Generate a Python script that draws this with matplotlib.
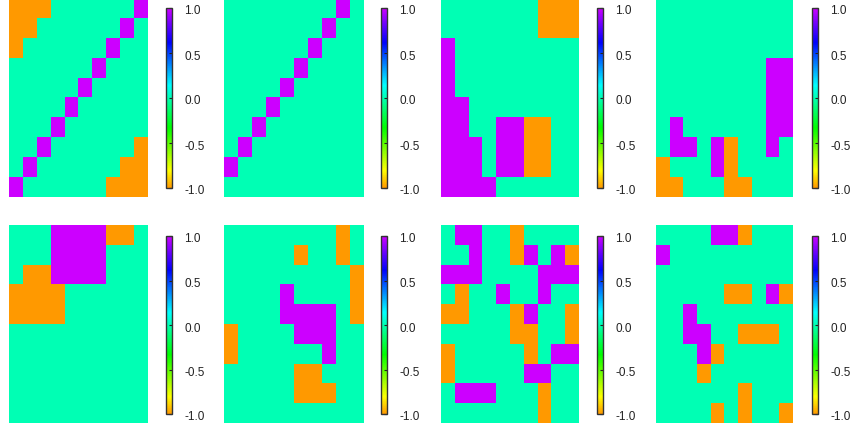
import numpy as np
import matplotlib
matplotlib.use('Agg')
import matplotlib.pyplot as plt
from matplotlib.colors import ListedColormap, hsv_to_rgb
from matplotlib.transforms import ScaledTranslation

plt.rcParams['font.family'] = ['Liberation Sans', 'DejaVu Sans']

# 10x10 state grids, -1 / 0 / 1, row 0 at the top
grid_a = [
    [-1, -1, -1, 0, 0, 0, 0, 0, 0, 1],
    [-1, -1, 0, 0, 0, 0, 0, 0, 1, 0],
    [-1, 0, 0, 0, 0, 0, 0, 1, 0, 0],
    [0, 0, 0, 0, 0, 0, 1, 0, 0, 0],
    [0, 0, 0, 0, 0, 1, 0, 0, 0, 0],
    [0, 0, 0, 0, 1, 0, 0, 0, 0, 0],
    [0, 0, 0, 1, 0, 0, 0, 0, 0, 0],
    [0, 0, 1, 0, 0, 0, 0, 0, 0, -1],
    [0, 1, 0, 0, 0, 0, 0, 0, -1, -1],
    [1, 0, 0, 0, 0, 0, 0, -1, -1, -1],
]
grid_b = [
    [0, 0, 0, 0, 0, 0, 0, 0, 1, 0],
    [0, 0, 0, 0, 0, 0, 0, 1, 0, 0],
    [0, 0, 0, 0, 0, 0, 1, 0, 0, 0],
    [0, 0, 0, 0, 0, 1, 0, 0, 0, 0],
    [0, 0, 0, 0, 1, 0, 0, 0, 0, 0],
    [0, 0, 0, 1, 0, 0, 0, 0, 0, 0],
    [0, 0, 1, 0, 0, 0, 0, 0, 0, 0],
    [0, 1, 0, 0, 0, 0, 0, 0, 0, 0],
    [1, 0, 0, 0, 0, 0, 0, 0, 0, 0],
    [0, 0, 0, 0, 0, 0, 0, 0, 0, 0],
]
grid_c = [
    [0, 0, 0, 0, 0, 0, 0, -1, -1, -1],
    [0, 0, 0, 0, 0, 0, 0, -1, -1, -1],
    [1, 0, 0, 0, 0, 0, 0, 0, 0, 0],
    [1, 0, 0, 0, 0, 0, 0, 0, 0, 0],
    [1, 0, 0, 0, 0, 0, 0, 0, 0, 0],
    [1, 1, 0, 0, 0, 0, 0, 0, 0, 0],
    [1, 1, 0, 0, 1, 1, -1, -1, 0, 0],
    [1, 1, 1, 0, 1, 1, -1, -1, 0, 0],
    [1, 1, 1, 0, 1, 1, -1, -1, 0, 0],
    [1, 1, 1, 1, 0, 0, 0, 0, 0, 0],
]
grid_d = [
    [0, 0, 0, 0, 0, 0, 0, 0, 0, 0],
    [0, 0, 0, 0, 0, 0, 0, 0, 0, 0],
    [0, 0, 0, 0, 0, 0, 0, 0, 0, 0],
    [0, 0, 0, 0, 0, 0, 0, 0, 1, 1],
    [0, 0, 0, 0, 0, 0, 0, 0, 1, 1],
    [0, 0, 0, 0, 0, 0, 0, 0, 1, 1],
    [0, 1, 0, 0, 0, 0, 0, 0, 1, 1],
    [0, 1, 1, 0, 1, -1, 0, 0, 1, 0],
    [-1, 0, 0, 0, 1, -1, 0, 0, 0, 0],
    [-1, -1, 0, 0, 0, -1, -1, 0, 0, 0],
]
grid_e = [
    [0, 0, 0, 1, 1, 1, 1, -1, -1, 0],
    [0, 0, 0, 1, 1, 1, 1, 0, 0, 0],
    [0, -1, -1, 1, 1, 1, 1, 0, 0, 0],
    [-1, -1, -1, -1, 0, 0, 0, 0, 0, 0],
    [-1, -1, -1, -1, 0, 0, 0, 0, 0, 0],
    [0, 0, 0, 0, 0, 0, 0, 0, 0, 0],
    [0, 0, 0, 0, 0, 0, 0, 0, 0, 0],
    [0, 0, 0, 0, 0, 0, 0, 0, 0, 0],
    [0, 0, 0, 0, 0, 0, 0, 0, 0, 0],
    [0, 0, 0, 0, 0, 0, 0, 0, 0, 0],
]
grid_f = [
    [0, 0, 0, 0, 0, 0, 0, 0, -1, 0],
    [0, 0, 0, 0, 0, -1, 0, 0, -1, 0],
    [0, 0, 0, 0, 0, 0, 0, 0, 0, -1],
    [0, 0, 0, 0, 1, 0, 0, 0, 0, -1],
    [0, 0, 0, 0, 1, 1, 1, 1, 0, -1],
    [-1, 0, 0, 0, 0, 1, 1, 1, 0, 0],
    [-1, 0, 0, 0, 0, 0, 0, 1, 0, 0],
    [0, 0, 0, 0, 0, -1, -1, 0, 0, 0],
    [0, 0, 0, 0, 0, -1, -1, -1, 0, 0],
    [0, 0, 0, 0, 0, 0, 0, 0, 0, 0],
]
grid_g = [
    [0, 1, 1, 0, 0, -1, 0, 0, 0, 0],
    [0, 0, 1, 0, 0, -1, 1, 0, 1, -1],
    [1, 1, 1, 0, 0, 0, 0, 1, 1, 1],
    [0, -1, 0, 0, 1, 0, 0, 1, 0, 0],
    [-1, -1, 0, 0, 0, -1, 1, 0, 0, -1],
    [0, 0, 0, 0, 0, -1, -1, 0, 0, -1],
    [-1, 0, 0, 0, 0, 0, -1, 0, 1, 1],
    [-1, 0, 0, 0, 0, 0, 1, 1, 0, 0],
    [0, 1, 1, 1, 0, 0, 0, -1, 0, 0],
    [0, 0, 0, 0, 0, 0, 0, -1, 0, 0],
]
grid_h = [
    [0, 0, 0, 0, 1, 1, -1, 0, 0, 0],
    [1, 0, 0, 0, 0, 0, 0, 0, 0, 0],
    [0, 0, 0, 0, 0, 0, 0, 0, 0, 0],
    [0, 0, 0, 0, 0, -1, -1, 0, 1, -1],
    [0, 0, 1, 0, 0, 0, 0, 0, 0, 0],
    [0, 0, 1, 1, 0, 0, -1, -1, -1, 0],
    [0, 0, 0, 1, -1, 0, 0, 0, 0, 0],
    [0, 0, 0, -1, 0, 0, 0, 0, 0, 0],
    [0, 0, 0, 0, 0, 0, -1, 0, 0, 0],
    [0, 0, 0, 0, -1, 0, -1, 0, 0, -1],
]
grids = [grid_a, grid_b, grid_c, grid_d, grid_e, grid_f, grid_g, grid_h]
cbar_ticks = [-1.0, -0.5, 0.0, 0.5, 1.0]

# hue ramp orange -> green -> blue -> purple
hues = np.linspace(0.1, 0.8, 256)
cmap = ListedColormap(hsv_to_rgb(np.stack([hues, np.ones(256), np.ones(256)], axis=1)))

W, H = 854, 429
fig = plt.figure(figsize=(W / 100, H / 100), dpi=100)

def px_axes(x0, y0, x1, y1):
    return fig.add_axes([x0 / W, 1 - y1 / H, (x1 - x0) / W, (y1 - y0) / H])

map_x = [(9, 148), (224, 363), (441, 578), (656, 793)]
bar_x = [166, 381, 597, 812]
map_y = [(-2, 197), (225, 423)]
bar_y = [(8, 188), (236, 414)]

# labels sit a touch below their ticks
nudge = ScaledTranslation(0, -2 / 100, fig.dpi_scale_trans)

for i, g in enumerate(grids):
    r, c = divmod(i, 4)
    ax = px_axes(map_x[c][0], map_y[r][0], map_x[c][1], map_y[r][1])
    im = ax.imshow(np.array(g), cmap=cmap, vmin=-1, vmax=1, aspect='auto',
                   interpolation='nearest')
    ax.axis('off')

    cax = px_axes(bar_x[c], bar_y[r][0], bar_x[c] + 6, bar_y[r][1])
    cb = fig.colorbar(im, cax=cax, ticks=cbar_ticks)
    cb.outline.set_edgecolor('#333333')
    cb.outline.set_linewidth(1.0)
    cax.tick_params(length=2, width=0.8, direction='in', pad=9,
                    labelsize=8.5, colors='#222222')
    cax.set_yticklabels(['%.1f' % t for t in cbar_ticks])
    for lab in cax.get_yticklabels():
        lab.set_transform(lab.get_transform() + nudge)

fig.savefig('out.png', dpi=100)
